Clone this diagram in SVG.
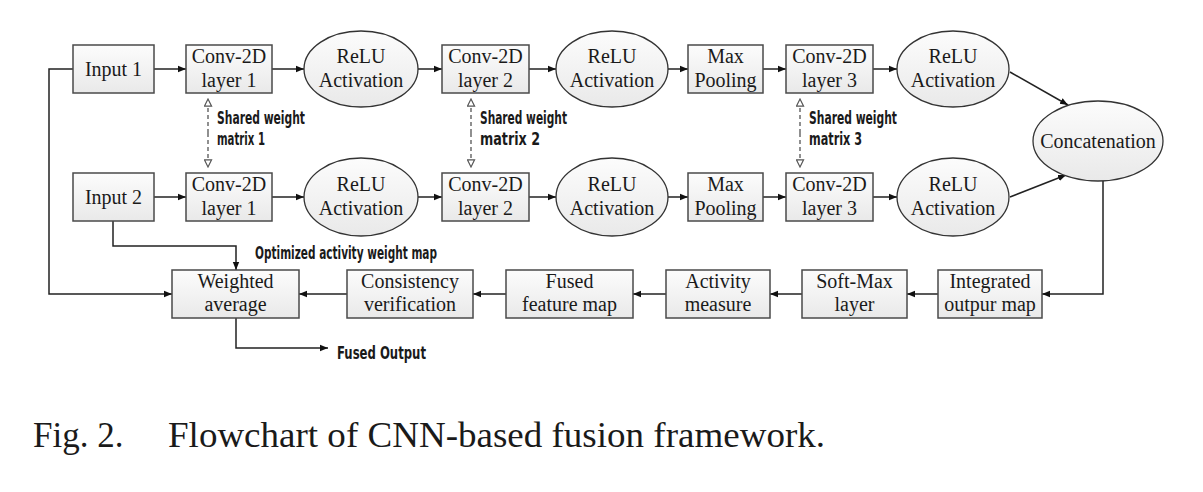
<svg xmlns="http://www.w3.org/2000/svg" width="1203" height="492" viewBox="0 0 1203 492">
<style>
  .box { fill: url(#g); stroke: #4a4a4a; stroke-width: 1.5; }
  .ell { fill: url(#g); stroke: #333; stroke-width: 1.3; }
  .t { font-family: "Liberation Serif", "Times New Roman", serif; font-size: 20px; fill: #1a1a1a; text-anchor: middle; }
  .lbl { font-family: "Liberation Sans Narrow", "DejaVu Sans Condensed", "Liberation Sans", sans-serif; font-weight: bold; font-size: 17.5px; fill: #1a1a1a; }
  .line { fill: none; stroke: #222; stroke-width: 1.5; }
  .dash { fill: none; stroke: #555; stroke-width: 1.3; stroke-dasharray: 4 3; }
  .cap { font-family: "Liberation Serif", "Times New Roman", serif; font-size: 35px; fill: #1a1a1a; }
</style>
<defs>
  <linearGradient id="g" x1="0" y1="0" x2="0" y2="1">
    <stop offset="0" stop-color="#fcfcfc"/>
    <stop offset="1" stop-color="#e9e9e9"/>
  </linearGradient>
  <marker id="arr" viewBox="0 0 10 10" refX="10" refY="5" markerWidth="8" markerHeight="8" markerUnits="userSpaceOnUse" orient="auto">
    <path d="M0,1 L10,5 L0,9 Z" fill="#111"/>
  </marker>
  <marker id="oarr" viewBox="0 0 10 10" refX="9" refY="5" markerWidth="9" markerHeight="9" markerUnits="userSpaceOnUse" orient="auto">
    <path d="M1,1 L9,5 L1,9 Z" fill="#fff" stroke="#555" stroke-width="1.3"/>
  </marker>
</defs>
<rect width="1203" height="492" fill="#fff"/>

<g id="connectors">
  <!-- row 1 -->
  <line class="line" x1="154" y1="69" x2="186" y2="69" marker-end="url(#arr)"/>
  <line class="line" x1="272" y1="69" x2="304" y2="69" marker-end="url(#arr)"/>
  <line class="line" x1="418" y1="69" x2="442" y2="69" marker-end="url(#arr)"/>
  <line class="line" x1="529" y1="69" x2="556" y2="69" marker-end="url(#arr)"/>
  <line class="line" x1="668" y1="69" x2="688" y2="69" marker-end="url(#arr)"/>
  <line class="line" x1="763" y1="69" x2="786" y2="69" marker-end="url(#arr)"/>
  <line class="line" x1="873" y1="69" x2="897" y2="69" marker-end="url(#arr)"/>
  <line class="line" x1="1010" y1="72" x2="1068" y2="105" marker-end="url(#arr)"/>
  <!-- row 2 -->
  <line class="line" x1="154" y1="197" x2="186" y2="197" marker-end="url(#arr)"/>
  <line class="line" x1="272" y1="197" x2="304" y2="197" marker-end="url(#arr)"/>
  <line class="line" x1="418" y1="197" x2="442" y2="197" marker-end="url(#arr)"/>
  <line class="line" x1="529" y1="197" x2="556" y2="197" marker-end="url(#arr)"/>
  <line class="line" x1="668" y1="197" x2="688" y2="197" marker-end="url(#arr)"/>
  <line class="line" x1="763" y1="197" x2="786" y2="197" marker-end="url(#arr)"/>
  <line class="line" x1="873" y1="197" x2="897" y2="197" marker-end="url(#arr)"/>
  <line class="line" x1="1010" y1="197" x2="1066" y2="175" marker-end="url(#arr)"/>
  <!-- shared weights -->
  <line class="dash" x1="208" y1="133" x2="208" y2="99" marker-end="url(#oarr)"/>
  <line class="dash" x1="208" y1="133" x2="208" y2="167" marker-end="url(#oarr)"/>
  <line class="dash" x1="471" y1="133" x2="471" y2="99" marker-end="url(#oarr)"/>
  <line class="dash" x1="471" y1="133" x2="471" y2="167" marker-end="url(#oarr)"/>
  <line class="dash" x1="800" y1="133" x2="800" y2="99" marker-end="url(#oarr)"/>
  <line class="dash" x1="800" y1="133" x2="800" y2="167" marker-end="url(#oarr)"/>
  <!-- bottom row -->
  <polyline class="line" points="1103,181 1103,294 1042,294" marker-end="url(#arr)"/>
  <line class="line" x1="938" y1="294" x2="907" y2="294" marker-end="url(#arr)"/>
  <line class="line" x1="802" y1="294" x2="770" y2="294" marker-end="url(#arr)"/>
  <line class="line" x1="666" y1="294" x2="633" y2="294" marker-end="url(#arr)"/>
  <line class="line" x1="506" y1="294" x2="473" y2="294" marker-end="url(#arr)"/>
  <line class="line" x1="347" y1="294" x2="299" y2="294" marker-end="url(#arr)"/>
  <polyline class="line" points="73,69 49,69 49,294 172,294" marker-end="url(#arr)"/>
  <polyline class="line" points="113,221 113,246 236,246 236,270" marker-end="url(#arr)"/>
  <polyline class="line" points="236,318 236,348 328,348" marker-end="url(#arr)"/>
</g>

<g id="input1"><rect class="box" x="73" y="45" width="81" height="48"/><text class="t" x="113.5" y="76">Input 1</text></g>
<g id="conv1a"><rect class="box" x="186" y="45" width="86" height="48"/><text class="t" x="229" y="63">Conv-2D</text><text class="t" x="229" y="87">layer 1</text></g>
<g id="relu1a"><ellipse class="ell" cx="361" cy="69" rx="57" ry="38"/><text class="t" x="361" y="63">ReLU</text><text class="t" x="361" y="87">Activation</text></g>
<g id="conv2a"><rect class="box" x="442" y="45" width="87" height="48"/><text class="t" x="485.5" y="63">Conv-2D</text><text class="t" x="485.5" y="87">layer 2</text></g>
<g id="relu2a"><ellipse class="ell" cx="612" cy="69" rx="56" ry="38"/><text class="t" x="612" y="63">ReLU</text><text class="t" x="612" y="87">Activation</text></g>
<g id="pool_a"><rect class="box" x="688" y="45" width="75" height="48"/><text class="t" x="725.5" y="63">Max</text><text class="t" x="725.5" y="87">Pooling</text></g>
<g id="conv3a"><rect class="box" x="786" y="45" width="87" height="48"/><text class="t" x="829.5" y="63">Conv-2D</text><text class="t" x="829.5" y="87">layer 3</text></g>
<g id="relu3a"><ellipse class="ell" cx="953" cy="69" rx="56" ry="38"/><text class="t" x="953" y="63">ReLU</text><text class="t" x="953" y="87">Activation</text></g>

<g id="input2"><rect class="box" x="73" y="173" width="81" height="48"/><text class="t" x="113.5" y="204">Input 2</text></g>
<g id="conv1b"><rect class="box" x="186" y="173" width="86" height="48"/><text class="t" x="229" y="191">Conv-2D</text><text class="t" x="229" y="215">layer 1</text></g>
<g id="relu1b"><ellipse class="ell" cx="361" cy="197" rx="57" ry="39"/><text class="t" x="361" y="191">ReLU</text><text class="t" x="361" y="215">Activation</text></g>
<g id="conv2b"><rect class="box" x="442" y="173" width="87" height="48"/><text class="t" x="485.5" y="191">Conv-2D</text><text class="t" x="485.5" y="215">layer 2</text></g>
<g id="relu2b"><ellipse class="ell" cx="612" cy="197" rx="56" ry="39"/><text class="t" x="612" y="191">ReLU</text><text class="t" x="612" y="215">Activation</text></g>
<g id="pool_b"><rect class="box" x="688" y="173" width="75" height="48"/><text class="t" x="725.5" y="191">Max</text><text class="t" x="725.5" y="215">Pooling</text></g>
<g id="conv3b"><rect class="box" x="786" y="173" width="87" height="48"/><text class="t" x="829.5" y="191">Conv-2D</text><text class="t" x="829.5" y="215">layer 3</text></g>
<g id="relu3b"><ellipse class="ell" cx="953" cy="197" rx="56" ry="39"/><text class="t" x="953" y="191">ReLU</text><text class="t" x="953" y="215">Activation</text></g>

<g id="concat"><ellipse class="ell" cx="1098" cy="141" rx="65" ry="40"/><text class="t" x="1098" y="148">Concatenation</text></g>

<g id="integrated"><rect class="box" x="938" y="270" width="104" height="48"/><text class="t" x="990" y="288">Integrated</text><text class="t" x="990" y="311">outpur map</text></g>
<g id="softmax"><rect class="box" x="802" y="270" width="105" height="48"/><text class="t" x="854.5" y="288">Soft-Max</text><text class="t" x="854.5" y="311">layer</text></g>
<g id="activity"><rect class="box" x="666" y="270" width="104" height="48"/><text class="t" x="718" y="288">Activity</text><text class="t" x="718" y="311">measure</text></g>
<g id="fused"><rect class="box" x="506" y="270" width="127" height="48"/><text class="t" x="569.5" y="288">Fused</text><text class="t" x="569.5" y="311">feature map</text></g>
<g id="consistency"><rect class="box" x="347" y="270" width="126" height="48"/><text class="t" x="410" y="288">Consistency</text><text class="t" x="410" y="311">verification</text></g>
<g id="weighted"><rect class="box" x="172" y="270" width="127" height="48"/><text class="t" x="235.5" y="288">Weighted</text><text class="t" x="235.5" y="311">average</text></g>

<g id="labels">
  <text class="lbl" x="217" y="124" textLength="88" lengthAdjust="spacingAndGlyphs">Shared weight</text>
  <text class="lbl" x="217" y="145" textLength="48" lengthAdjust="spacingAndGlyphs">matrix 1</text>
  <text class="lbl" x="480" y="124" textLength="87" lengthAdjust="spacingAndGlyphs">Shared weight</text>
  <text class="lbl" x="480" y="145" textLength="60" lengthAdjust="spacingAndGlyphs">matrix 2</text>
  <text class="lbl" x="809" y="124" textLength="88" lengthAdjust="spacingAndGlyphs">Shared weight</text>
  <text class="lbl" x="809" y="145" textLength="53" lengthAdjust="spacingAndGlyphs">matrix 3</text>
  <text class="lbl" x="255" y="259" textLength="182" lengthAdjust="spacingAndGlyphs">Optimized activity weight map</text>
  <text class="lbl" x="337" y="359" font-size="20.5" textLength="89" lengthAdjust="spacingAndGlyphs">Fused Output</text>
</g>

<g id="caption">
  <text class="cap" x="33" y="447">Fig. 2.</text>
  <text class="cap" x="168" y="447" textLength="657" lengthAdjust="spacingAndGlyphs">Flowchart of CNN-based fusion framework.</text>
</g>
</svg>
